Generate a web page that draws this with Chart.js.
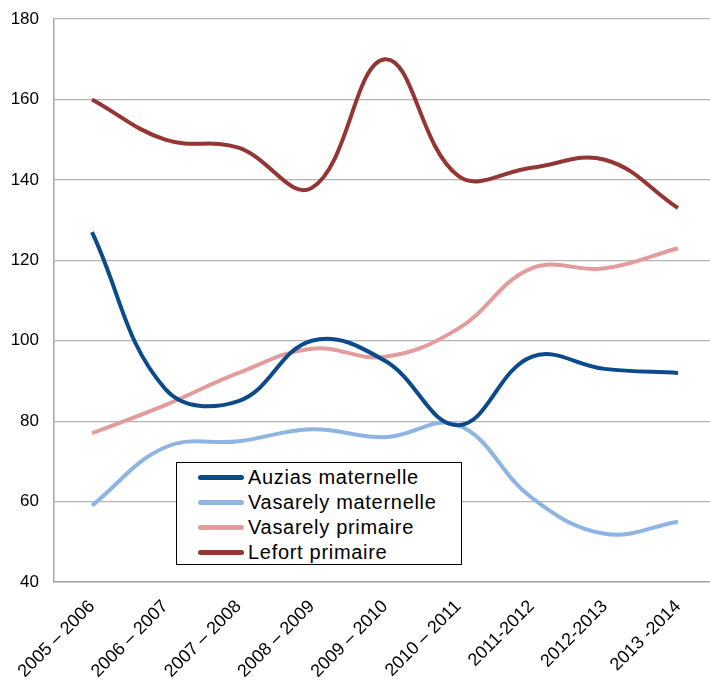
<!DOCTYPE html>
<html>
<head>
<meta charset="utf-8">
<script src="https://cdn.jsdelivr.net/npm/chart.js@4/dist/chart.umd.min.js"></script>
<style>
  html, body { margin: 0; padding: 0; background: #fff; overflow: hidden; }
  #wrap { position: relative; width: 710px; height: 684px; }
  #legend {
    position: absolute; left: 176px; top: 462px; width: 284px; height: 101px;
    border: 1px solid #000; background: #fff; box-sizing: content-box;
    font-family: "Liberation Sans", Arial, sans-serif; font-size: 20px; letter-spacing: 0.7px;
    color: #000;
  }
  .row { position: absolute; left: 0; height: 24px; line-height: 24px; white-space: nowrap; }
  .swatch { position: absolute; left: 21px; top: 10px; width: 46px; height: 5px; border-radius: 3px; }
  .lbl { position: absolute; left: 71px; top: 0; }
</style>
</head>
<body>
<div id="wrap">
  <canvas id="c" width="710" height="684"></canvas>
  <div id="legend"></div>
</div>
<script>
const categories = ["2005 – 2006", "2006 – 2007", "2007 – 2008", "2008 – 2009", "2009 – 2010", "2010 – 2011", "2011-2012", "2012-2013", "2013 -2014"];
const seriesNames = ["Auzias maternelle", "Vasarely maternelle", "Vasarely primaire", "Lefort primaire"];
const auziasMaternelle   = [127, 88, 85, 100, 95, 79, 96, 93, 92];
const vasarelyMaternelle = [59, 73.5, 75, 78, 76, 79, 61, 52, 55];
const vasarelyPrimaire   = [77, 84, 92, 98, 96, 103, 118, 118, 123];
const lefortPrimaire     = [160, 150, 148, 138, 170, 141, 143, 145, 133];
const yTicks = [40, 60, 80, 100, 120, 140, 160, 180];
const colors = ["#0B4A8B", "#8DB4E2", "#E39C9C", "#943634"];

const allSeries = [auziasMaternelle, vasarelyMaternelle, vasarelyPrimaire, lefortPrimaire];
const datasets = allSeries.map((vals, i) => ({
  label: seriesNames[i],
  data: vals.map((v, k) => ({ x: k, y: v })),
  borderColor: colors[i],
  backgroundColor: colors[i],
  borderWidth: 4,
  pointRadius: 0,
  tension: 0.4,
  fill: false
}));
const font = "'Liberation Sans', Arial, sans-serif";

new Chart(document.getElementById('c'), {
  type: 'line',
  data: { datasets },
  options: {
    responsive: false,
    animation: false,
    layout: { padding: { top: 19, right: 0, left: 0, bottom: 0 } },
    plugins: { legend: { display: false }, tooltip: { enabled: false } },
    scales: {
      x: {
        type: 'linear',
        min: -0.519,
        max: 8.437,
        grid: { display: false, drawTicks: false },
        border: { display: true, color: '#A6A6A6', width: 1.5 },
        afterBuildTicks: (s) => { s.ticks = categories.map((c, k) => ({ value: k })); },
        afterFit: (s) => { s.height = 102; s.paddingLeft = 0; s.paddingRight = 0; },
        ticks: {
          autoSkip: false,
          maxRotation: 45,
          minRotation: 45,
          padding: 14,
          color: '#000',
          font: { family: font, size: 18 },
          callback: (v) => categories[v]
        }
      },
      y: {
        min: 40,
        max: 180,
        afterBuildTicks: (s) => { s.ticks = yTicks.map(v => ({ value: v })); },
        afterFit: (s) => { s.width = 54; s.paddingTop = 0; s.paddingBottom = 0; },
        grid: { color: '#B3B3B3', lineWidth: 1.2, drawTicks: false },
        border: { display: true, color: '#A6A6A6', width: 1.5 },
        ticks: {
          padding: 15,
          color: '#000',
          font: { family: font, size: 17 }
        }
      }
    }
  }
});

const legend = document.getElementById('legend');
seriesNames.forEach((name, i) => {
  const row = document.createElement('div');
  row.className = 'row';
  row.style.top = (2 + i * 25) + 'px';
  row.style.width = '100%';
  const sw = document.createElement('div');
  sw.className = 'swatch';
  sw.style.background = colors[i];
  const lb = document.createElement('span');
  lb.className = 'lbl';
  lb.textContent = name;
  row.appendChild(sw); row.appendChild(lb);
  legend.appendChild(row);
});
</script>
</body>
</html>
